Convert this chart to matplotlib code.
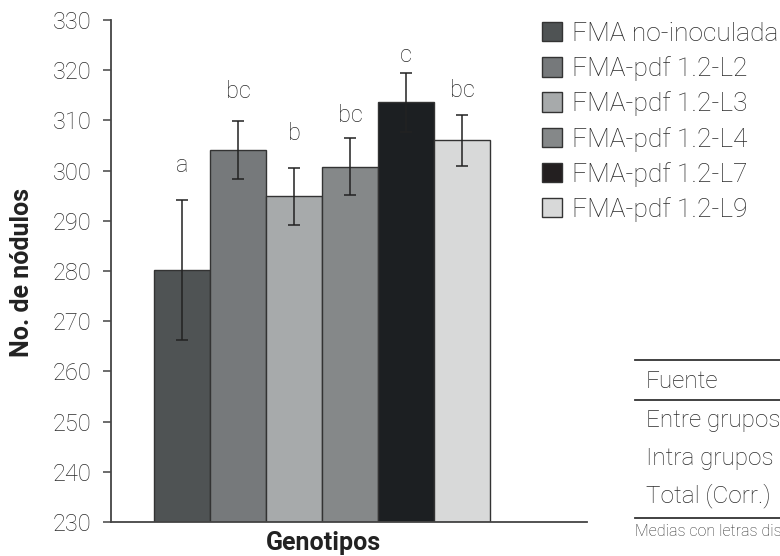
import matplotlib
matplotlib.use("Agg")
import matplotlib.pyplot as plt
from matplotlib.patches import Patch
from matplotlib.lines import Line2D

plt.rcParams['font.family'] = ['Roboto', 'DejaVu Sans']

# data
genotipos = ["FMA no-inoculada", "FMA-pdf 1.2-L2", "FMA-pdf 1.2-L3",
             "FMA-pdf 1.2-L4", "FMA-pdf 1.2-L7", "FMA-pdf 1.2-L9"]
nodulos = [280.2, 304.1, 294.9, 300.8, 313.6, 306.0]
error = [14.0, 5.7, 5.7, 5.75, 5.9, 5.1]
letras = ["a", "bc", "b", "bc", "c", "bc"]
yticks = [230, 240, 250, 260, 270, 280, 290, 300, 310, 320, 330]

# anova table rows (only partly visible in the reference)
tabla_filas = ["Entre grupos", "Intra grupos", "Total (Corr.)"]
nota = "Medias con letras distintas difieren significativamente (p < 0.05)"

colores = ["#4f5354", "#76797b", "#a7aaab", "#858889", "#1c1f22", "#d8d9d9"]
legend_colores = ["#4f5354", "#76797b", "#a7aaab", "#858889", "#231f20", "#d8d9d9"]
letra_base = [299.7, 314.5, 306.1, 309.7, 321.6, 314.7]  # label baselines

W, H = 780, 556
FS = 17
fig = plt.figure(figsize=(W / 100, H / 100), dpi=100)
ax = fig.add_axes([111 / W, 1 - 522 / H, 476 / W, 502 / H])

txt = "#2b2b2b"
x = list(range(len(nodulos)))
ax.bar(x, [v - 230 for v in nodulos], bottom=230, width=1.0, color=colores,
       edgecolor="#333333", linewidth=1.0, zorder=2)
ax.errorbar(x, nodulos, yerr=error, fmt="none", ecolor="#222222",
            elinewidth=1.1, capsize=4, capthick=1.1, zorder=3)
for xi, lab, yb in zip(x, letras, letra_base):
    ax.text(xi, yb, lab, ha="center", va="baseline", fontsize=FS,
            fontweight="light", color=txt)

ax.set_ylim(230, 330)
ax.set_xlim(-1.268, 7.23)
ax.set_yticks(yticks)
ax.set_xticks([])
for s in ["top", "right"]:
    ax.spines[s].set_visible(False)
for s in ["left", "bottom"]:
    ax.spines[s].set_color("#444444")
    ax.spines[s].set_linewidth(1.3)
ax.tick_params(axis="y", length=6, width=1.1, color="#444444", pad=8,
               labelsize=FS, labelcolor=txt)
for t in ax.get_yticklabels():
    t.set_fontweight("light")

fig.text(22 / W, 1 - 272 / H, "No. de nódulos", rotation=90, ha="center",
         va="center", fontsize=18, fontweight="bold", color="#222222")
fig.text(323 / W, 1 - 543 / H, "Genotipos", ha="center", va="center",
         fontsize=18, fontweight="bold", color="#222222")

handles = [Patch(facecolor=c, edgecolor="#333333", linewidth=1.0)
           for c in legend_colores]
leg = fig.legend(handles, genotipos, loc="upper left",
                 bbox_to_anchor=(542 / W, 1 - 22 / H), frameon=False,
                 fontsize=19, handlelength=0.75, handleheight=0.75,
                 handletextpad=0.38, labelspacing=0.39, borderpad=0,
                 borderaxespad=0)
for t in leg.get_texts():
    t.set_fontweight("light")
    t.set_color(txt)

# partial ANOVA table on the right
for yy in [360, 400, 518]:
    fig.add_artist(Line2D([635 / W, 1.0], [1 - yy / H, 1 - yy / H],
                          color="#333333", linewidth=1.3))
fig.text(646 / W, 1 - 381 / H, "Fuente", ha="left", va="center",
         fontsize=17.5, fontweight="light", color=txt)
for yy, fila in zip([420, 458, 496], tabla_filas):
    fig.text(646 / W, 1 - yy / H, fila, ha="left", va="center",
             fontsize=17.5, fontweight="light", color=txt)
fig.text(635 / W, 1 - 531 / H, nota, ha="left", va="center",
         fontsize=11.5, fontweight="light", color=txt)

fig.savefig("out.png", dpi=100)
